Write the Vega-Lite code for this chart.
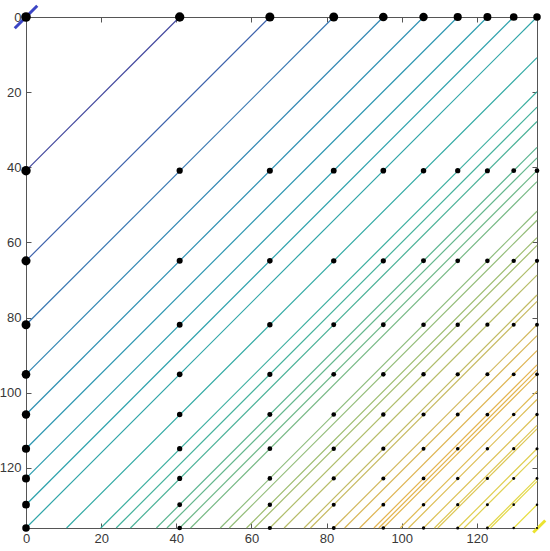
{
  "$schema": "https://vega.github.io/schema/vega-lite/v6.json",
  "width": 511,
  "height": 511,
  "autosize": {"type": "none"},
  "padding": {"left": 26, "top": 17, "right": 13, "bottom": 23},
  "background": "white",
  "config": {
    "view": {"stroke": null},
    "axis": {
      "grid": false,
      "domainColor": "#555555",
      "domainWidth": 1,
      "tickColor": "#555555",
      "tickSize": -5,
      "labelColor": "#383838",
      "labelFont": "Liberation Sans",
      "labelFontSize": 13,
      "labelFlush": false,
      "labelOverlap": false,
      "title": null
    }
  },
  "datasets": {
    "levels": [
      {"m": 2, "c": 40.9, "x1": 0, "y1": 40.9, "x2": 40.9, "y2": 0},
      {"m": 3, "c": 64.9, "x1": 0, "y1": 64.9, "x2": 64.9, "y2": 0},
      {"m": 4, "c": 81.9, "x1": 0, "y1": 81.9, "x2": 81.9, "y2": 0},
      {"m": 5, "c": 95.1, "x1": 0, "y1": 95.1, "x2": 95.1, "y2": 0},
      {"m": 6, "c": 105.8, "x1": 0, "y1": 105.8, "x2": 105.8, "y2": 0},
      {"m": 7, "c": 114.9, "x1": 0, "y1": 114.9, "x2": 114.9, "y2": 0},
      {"m": 8, "c": 122.8, "x1": 0, "y1": 122.8, "x2": 122.8, "y2": 0},
      {"m": 9, "c": 129.8, "x1": 0, "y1": 129.8, "x2": 129.8, "y2": 0},
      {"m": 10, "c": 136, "x1": 0, "y1": 136, "x2": 136, "y2": 0},
      {"m": 12, "c": 146.8, "x1": 10.8, "y1": 136, "x2": 136, "y2": 10.8},
      {"m": 14, "c": 155.9, "x1": 19.9, "y1": 136, "x2": 136, "y2": 19.9},
      {"m": 15, "c": 160.0, "x1": 24.0, "y1": 136, "x2": 136, "y2": 24.0},
      {"m": 16, "c": 163.8, "x1": 27.8, "y1": 136, "x2": 136, "y2": 27.8},
      {"m": 18, "c": 170.7, "x1": 34.7, "y1": 136, "x2": 136, "y2": 34.7},
      {"m": 19, "c": 173.5, "x1": 37.5, "y1": 136, "x2": 136, "y2": 37.5},
      {"m": 20, "c": 176.9, "x1": 40.9, "y1": 136, "x2": 136, "y2": 40.9},
      {"m": 21, "c": 179.8, "x1": 43.8, "y1": 136, "x2": 136, "y2": 43.8},
      {"m": 24, "c": 187.7, "x1": 51.7, "y1": 136, "x2": 136, "y2": 51.7},
      {"m": 25, "c": 190.1, "x1": 54.1, "y1": 136, "x2": 136, "y2": 54.1},
      {"m": 27, "c": 194.7, "x1": 58.7, "y1": 136, "x2": 136, "y2": 58.7},
      {"m": 28, "c": 196.8, "x1": 60.8, "y1": 136, "x2": 136, "y2": 60.8},
      {"m": 30, "c": 200.9, "x1": 64.9, "y1": 136, "x2": 136, "y2": 64.9},
      {"m": 32, "c": 204.7, "x1": 68.7, "y1": 136, "x2": 136, "y2": 68.7},
      {"m": 35, "c": 210.0, "x1": 74.0, "y1": 136, "x2": 136, "y2": 74.0},
      {"m": 36, "c": 211.7, "x1": 75.7, "y1": 136, "x2": 136, "y2": 75.7},
      {"m": 40, "c": 217.9, "x1": 81.9, "y1": 136, "x2": 136, "y2": 81.9},
      {"m": 42, "c": 220.8, "x1": 84.8, "y1": 136, "x2": 136, "y2": 84.8},
      {"m": 45, "c": 224.8, "x1": 88.8, "y1": 136, "x2": 136, "y2": 88.8},
      {"m": 48, "c": 228.6, "x1": 92.6, "y1": 136, "x2": 136, "y2": 92.6},
      {"m": 49, "c": 229.9, "x1": 93.9, "y1": 136, "x2": 136, "y2": 93.9},
      {"m": 50, "c": 231.1, "x1": 95.1, "y1": 136, "x2": 136, "y2": 95.1},
      {"m": 54, "c": 235.6, "x1": 99.6, "y1": 136, "x2": 136, "y2": 99.6},
      {"m": 56, "c": 237.8, "x1": 101.8, "y1": 136, "x2": 136, "y2": 101.8},
      {"m": 60, "c": 241.8, "x1": 105.8, "y1": 136, "x2": 136, "y2": 105.8},
      {"m": 63, "c": 244.7, "x1": 108.7, "y1": 136, "x2": 136, "y2": 108.7},
      {"m": 64, "c": 245.6, "x1": 109.6, "y1": 136, "x2": 136, "y2": 109.6},
      {"m": 70, "c": 250.9, "x1": 114.9, "y1": 136, "x2": 136, "y2": 114.9},
      {"m": 72, "c": 252.6, "x1": 116.6, "y1": 136, "x2": 136, "y2": 116.6},
      {"m": 80, "c": 258.8, "x1": 122.8, "y1": 136, "x2": 136, "y2": 122.8},
      {"m": 81, "c": 259.6, "x1": 123.6, "y1": 136, "x2": 136, "y2": 123.6},
      {"m": 90, "c": 265.8, "x1": 129.8, "y1": 136, "x2": 136, "y2": 129.8}
    ],
    "ends": [
      {"m": 1, "c": 0, "x1": -3, "y1": 3, "x2": 3, "y2": -3},
      {"m": 100, "c": 272, "x1": 135, "y1": 137.2, "x2": 138.2, "y2": 134}
    ],
    "dots": [
      {"x": 0, "y": 0, "weight": 10}, {"x": 40.9, "y": 0, "weight": 9.8}, {"x": 64.9, "y": 0, "weight": 9.5}, {"x": 81.9, "y": 0, "weight": 9.3}, {"x": 95.1, "y": 0, "weight": 9}, {"x": 105.8, "y": 0, "weight": 8.8}, {"x": 114.9, "y": 0, "weight": 8.5}, {"x": 122.8, "y": 0, "weight": 8.3}, {"x": 129.8, "y": 0, "weight": 8}, {"x": 136, "y": 0, "weight": 7.8},
      {"x": 0, "y": 40.9, "weight": 9.8}, {"x": 40.9, "y": 40.9, "weight": 6.5}, {"x": 64.9, "y": 40.9, "weight": 6.3}, {"x": 81.9, "y": 40.9, "weight": 6.1}, {"x": 95.1, "y": 40.9, "weight": 5.9}, {"x": 105.8, "y": 40.9, "weight": 5.7}, {"x": 114.9, "y": 40.9, "weight": 5.5}, {"x": 122.8, "y": 40.9, "weight": 5.3}, {"x": 129.8, "y": 40.9, "weight": 5.1}, {"x": 136, "y": 40.9, "weight": 4.9},
      {"x": 0, "y": 64.9, "weight": 9.5}, {"x": 40.9, "y": 64.9, "weight": 6.3}, {"x": 64.9, "y": 64.9, "weight": 5.8}, {"x": 81.9, "y": 64.9, "weight": 5.6}, {"x": 95.1, "y": 64.9, "weight": 5.4}, {"x": 105.8, "y": 64.9, "weight": 5.2}, {"x": 114.9, "y": 64.9, "weight": 5.0}, {"x": 122.8, "y": 64.9, "weight": 4.8}, {"x": 129.8, "y": 64.9, "weight": 4.6}, {"x": 136, "y": 64.9, "weight": 4.4},
      {"x": 0, "y": 81.9, "weight": 9.3}, {"x": 40.9, "y": 81.9, "weight": 6.1}, {"x": 64.9, "y": 81.9, "weight": 5.6}, {"x": 81.9, "y": 81.9, "weight": 5.2}, {"x": 95.1, "y": 81.9, "weight": 5.0}, {"x": 105.8, "y": 81.9, "weight": 4.8}, {"x": 114.9, "y": 81.9, "weight": 4.6}, {"x": 122.8, "y": 81.9, "weight": 4.4}, {"x": 129.8, "y": 81.9, "weight": 4.2}, {"x": 136, "y": 81.9, "weight": 4.0},
      {"x": 0, "y": 95.1, "weight": 9.0}, {"x": 40.9, "y": 95.1, "weight": 5.9}, {"x": 64.9, "y": 95.1, "weight": 5.4}, {"x": 81.9, "y": 95.1, "weight": 5.0}, {"x": 95.1, "y": 95.1, "weight": 4.8}, {"x": 105.8, "y": 95.1, "weight": 4.6}, {"x": 114.9, "y": 95.1, "weight": 4.4}, {"x": 122.8, "y": 95.1, "weight": 4.2}, {"x": 129.8, "y": 95.1, "weight": 4.0}, {"x": 136, "y": 95.1, "weight": 3.8},
      {"x": 0, "y": 105.8, "weight": 8.8}, {"x": 40.9, "y": 105.8, "weight": 5.7}, {"x": 64.9, "y": 105.8, "weight": 5.2}, {"x": 81.9, "y": 105.8, "weight": 4.8}, {"x": 95.1, "y": 105.8, "weight": 4.6}, {"x": 105.8, "y": 105.8, "weight": 4.3}, {"x": 114.9, "y": 105.8, "weight": 4.1}, {"x": 122.8, "y": 105.8, "weight": 3.9}, {"x": 129.8, "y": 105.8, "weight": 3.7}, {"x": 136, "y": 105.8, "weight": 3.5},
      {"x": 0, "y": 114.9, "weight": 8.5}, {"x": 40.9, "y": 114.9, "weight": 5.5}, {"x": 64.9, "y": 114.9, "weight": 5.0}, {"x": 81.9, "y": 114.9, "weight": 4.6}, {"x": 95.1, "y": 114.9, "weight": 4.4}, {"x": 105.8, "y": 114.9, "weight": 4.1}, {"x": 114.9, "y": 114.9, "weight": 3.8}, {"x": 122.8, "y": 114.9, "weight": 3.6}, {"x": 129.8, "y": 114.9, "weight": 3.4}, {"x": 136, "y": 114.9, "weight": 3.2},
      {"x": 0, "y": 122.8, "weight": 8.3}, {"x": 40.9, "y": 122.8, "weight": 5.3}, {"x": 64.9, "y": 122.8, "weight": 4.8}, {"x": 81.9, "y": 122.8, "weight": 4.4}, {"x": 95.1, "y": 122.8, "weight": 4.2}, {"x": 105.8, "y": 122.8, "weight": 3.9}, {"x": 114.9, "y": 122.8, "weight": 3.6}, {"x": 122.8, "y": 122.8, "weight": 3.3}, {"x": 129.8, "y": 122.8, "weight": 3.1}, {"x": 136, "y": 122.8, "weight": 2.9},
      {"x": 0, "y": 129.8, "weight": 8.0}, {"x": 40.9, "y": 129.8, "weight": 5.1}, {"x": 64.9, "y": 129.8, "weight": 4.6}, {"x": 81.9, "y": 129.8, "weight": 4.2}, {"x": 95.1, "y": 129.8, "weight": 4.0}, {"x": 105.8, "y": 129.8, "weight": 3.7}, {"x": 114.9, "y": 129.8, "weight": 3.4}, {"x": 122.8, "y": 129.8, "weight": 3.1}, {"x": 129.8, "y": 129.8, "weight": 2.8}, {"x": 136, "y": 129.8, "weight": 2.6},
      {"x": 0, "y": 136, "weight": 7.8}, {"x": 40.9, "y": 136, "weight": 4.9}, {"x": 64.9, "y": 136, "weight": 4.4}, {"x": 81.9, "y": 136, "weight": 4.0}, {"x": 95.1, "y": 136, "weight": 3.8}, {"x": 105.8, "y": 136, "weight": 3.5}, {"x": 114.9, "y": 136, "weight": 3.2}, {"x": 122.8, "y": 136, "weight": 2.9}, {"x": 129.8, "y": 136, "weight": 2.6}, {"x": 136, "y": 136, "weight": 2.3}
    ]
  },
  "resolve": {"axis": {"x": "independent", "y": "independent"}},
  "layer": [
    {
      "data": {"name": "levels"},
      "mark": {"type": "rule", "strokeWidth": 1.2, "clip": false},
      "encoding": {
        "x": {"field": "x1", "type": "quantitative", "scale": {"domain": [0, 136], "nice": false, "zero": false},
              "axis": {"orient": "bottom", "values": [0, 20, 40, 60, 80, 100, 120], "labelPadding": 9}},
        "x2": {"field": "x2"},
        "y": {"field": "y1", "type": "quantitative", "scale": {"domain": [0, 136], "nice": false, "zero": false, "reverse": true},
              "axis": {"orient": "left", "values": [0, 20, 40, 60, 80, 100, 120], "labelPadding": 10}},
        "y2": {"field": "y2"},
        "color": {"field": "c", "type": "quantitative", "legend": null,
                  "scale": {"domain": [0, 41, 65, 82, 100, 120, 136, 155, 170, 185, 200, 215, 228, 240, 255, 272],
                            "range": ["#3b45c4", "#42479e", "#3d61ab", "#3878b2", "#338cb3", "#2f9bb0", "#30a5a8", "#38aea0", "#5ab592", "#86bb80", "#adbd6c", "#cdb960", "#e4b24e", "#dcc058", "#e0d450", "#ebe330"]}}
      }
    },
    {
      "data": {"name": "ends"},
      "mark": {"type": "rule", "strokeWidth": 3, "clip": false},
      "encoding": {
        "x": {"field": "x1", "type": "quantitative", "axis": null},
        "x2": {"field": "x2"},
        "y": {"field": "y1", "type": "quantitative", "axis": null},
        "y2": {"field": "y2"},
        "color": {"field": "c", "type": "quantitative", "legend": null}
      }
    },
    {
      "data": {"name": "dots"},
      "mark": {"type": "circle", "color": "black", "opacity": 1, "clip": false},
      "encoding": {
        "x": {"field": "x", "type": "quantitative",
              "axis": {"orient": "top", "values": [0, 20, 40, 60, 80, 100, 120], "labels": false}},
        "y": {"field": "y", "type": "quantitative",
              "axis": {"orient": "right", "values": [0, 20, 40, 60, 80, 100, 120], "labels": false}},
        "size": {"field": "weight", "type": "quantitative", "legend": null,
                 "scale": {"type": "pow", "exponent": 2, "domain": [0, 10], "range": [0, 92]}}
      }
    }
  ]
}
